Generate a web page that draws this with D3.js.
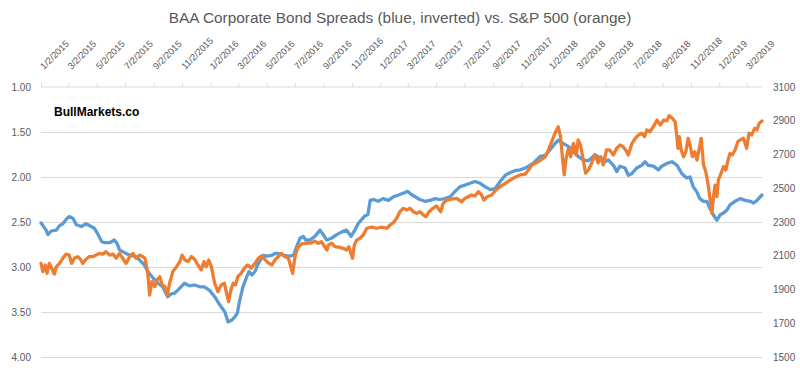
<!DOCTYPE html>
<html>
<head>
<meta charset="utf-8">
<script src="https://cdn.jsdelivr.net/npm/d3@7"></script>
<style>
  html, body { margin: 0; padding: 0; background: #fff; }
  svg { display: block; }
  text { font-family: "Liberation Sans", Arial, sans-serif; }
</style>
</head>
<body>
<svg id="chart" width="800" height="375"></svg>
<script>
// ---------- DATA ----------
const chartTitle = "BAA Corporate Bond Spreads (blue, inverted) vs. S&P 500 (orange)";
const watermark = "BullMarkets.co";

const spreadTicks = [1.00, 1.50, 2.00, 2.50, 3.00, 3.50, 4.00];
const spxTicks = [1500, 1700, 1900, 2100, 2300, 2500, 2700, 2900, 3100];
const dateTicks = ["2015-01-02","2015-03-02","2015-05-02","2015-07-02","2015-09-02","2015-11-02",
  "2016-01-02","2016-03-02","2016-05-02","2016-07-02","2016-09-02","2016-11-02",
  "2017-01-02","2017-03-02","2017-05-02","2017-07-02","2017-09-02","2017-11-02",
  "2018-01-02","2018-03-02","2018-05-02","2018-07-02","2018-09-02","2018-11-02",
  "2019-01-02","2019-03-02"];
const dateRange = ["2015-01-02", "2019-04-04"];

// BAA corporate bond spread (%), blue, plotted on inverted left axis
const spreadDates = ["2015-01-02","2015-01-13","2015-01-17","2015-01-24","2015-02-04","2015-02-11","2015-02-18","2015-02-27","2015-03-04","2015-03-12","2015-03-19","2015-03-30","2015-04-09","2015-04-20","2015-04-27","2015-05-04","2015-05-13","2015-05-19","2015-05-30","2015-06-09","2015-06-15","2015-06-20","2015-07-01","2015-07-12","2015-07-23","2015-08-02","2015-08-13","2015-08-20","2015-08-31","2015-09-11","2015-09-21","2015-10-02","2015-10-09","2015-10-17","2015-10-27","2015-11-07","2015-11-18","2015-11-29","2015-12-10","2015-12-20","2015-12-31",
"2016-01-11","2016-01-22","2016-02-02","2016-02-09","2016-02-17","2016-02-24","2016-02-29","2016-03-05","2016-03-12","2016-03-20","2016-03-25","2016-03-31","2016-04-07","2016-04-14","2016-04-25","2016-05-02","2016-05-13","2016-05-20","2016-05-27","2016-06-07","2016-06-18","2016-06-29","2016-07-06","2016-07-13","2016-07-20","2016-07-25","2016-08-03","2016-08-14","2016-08-25","2016-09-01","2016-09-08","2016-09-19","2016-09-30","2016-10-11","2016-10-21","2016-10-31","2016-11-08","2016-11-15","2016-11-23","2016-11-30","2016-12-06","2016-12-11","2016-12-18","2016-12-28",
"2017-01-08","2017-01-19","2017-01-30","2017-02-10","2017-02-20","2017-03-02","2017-03-11","2017-03-18","2017-03-28","2017-04-08","2017-04-19","2017-04-30","2017-05-10","2017-05-21","2017-06-01","2017-06-12","2017-06-22","2017-07-03","2017-07-14","2017-07-25","2017-08-05","2017-08-16","2017-08-27","2017-09-06","2017-09-17","2017-09-28","2017-10-09","2017-10-19","2017-10-30","2017-11-10","2017-11-21","2017-12-01","2017-12-12","2017-12-23",
"2018-01-02","2018-01-13","2018-01-20","2018-01-28","2018-02-04","2018-02-11","2018-02-22","2018-03-04","2018-03-15","2018-03-26","2018-04-06","2018-04-12","2018-04-20","2018-05-01","2018-05-08","2018-05-19","2018-05-26","2018-06-02","2018-06-13","2018-06-20","2018-06-28","2018-07-08","2018-07-19","2018-07-26","2018-08-02","2018-08-13","2018-08-24","2018-08-31","2018-09-11","2018-09-22","2018-10-03","2018-10-13","2018-10-24","2018-10-31","2018-11-07","2018-11-14","2018-11-21","2018-11-29","2018-12-06","2018-12-13","2018-12-20","2018-12-28",
"2019-01-04","2019-01-11","2019-01-18","2019-01-25","2019-02-05","2019-02-16","2019-02-27","2019-03-10","2019-03-17","2019-03-24","2019-04-04"];
const spreadValues = [2.51,2.59,2.64,2.60,2.59,2.54,2.52,2.46,2.44,2.46,2.53,2.55,2.52,2.55,2.57,2.63,2.72,2.73,2.73,2.70,2.74,2.81,2.84,2.87,2.88,2.92,2.98,3.05,3.12,3.18,3.22,3.33,3.30,3.29,3.24,3.18,3.21,3.20,3.22,3.22,3.26,
3.33,3.42,3.50,3.61,3.59,3.55,3.51,3.37,3.22,3.11,3.05,3.09,3.05,2.96,2.87,2.88,2.87,2.85,2.85,2.87,2.88,2.87,2.77,2.68,2.66,2.70,2.70,2.66,2.59,2.64,2.70,2.68,2.64,2.61,2.59,2.66,2.59,2.52,2.47,2.43,2.42,2.26,2.25,2.27,
2.24,2.26,2.22,2.20,2.18,2.16,2.20,2.22,2.25,2.27,2.26,2.24,2.25,2.24,2.22,2.16,2.11,2.09,2.07,2.05,2.07,2.11,2.14,2.13,2.05,1.98,1.95,1.93,1.92,1.90,1.87,1.83,1.77,1.76,
1.70,1.63,1.59,1.62,1.64,1.66,1.72,1.77,1.81,1.82,1.77,1.76,1.79,1.83,1.81,1.87,1.94,1.88,1.90,1.98,1.96,1.90,1.87,1.83,1.87,1.88,1.92,1.88,1.85,1.83,1.87,1.96,2.01,2.00,2.11,2.16,2.24,2.27,2.27,2.35,2.42,2.48,
2.42,2.40,2.37,2.31,2.27,2.24,2.26,2.27,2.29,2.26,2.20];

// S&P 500 index, orange, right axis
const spxDates = ["2015-01-02","2015-01-06","2015-01-11","2015-01-15","2015-01-20","2015-01-25","2015-01-31","2015-02-04","2015-02-11","2015-02-18","2015-02-25","2015-03-04","2015-03-09","2015-03-15","2015-03-22","2015-03-28","2015-04-02","2015-04-09","2015-04-16","2015-04-24","2015-05-01","2015-05-08","2015-05-15","2015-05-22","2015-05-30","2015-06-06","2015-06-13","2015-06-20","2015-06-27","2015-07-04","2015-07-12","2015-07-19","2015-07-26","2015-08-02","2015-08-09","2015-08-14","2015-08-20","2015-08-24","2015-08-29","2015-09-04","2015-09-09","2015-09-15","2015-09-20","2015-09-26","2015-10-01","2015-10-06","2015-10-13","2015-10-21","2015-10-28","2015-11-02","2015-11-08","2015-11-15","2015-11-22","2015-11-29","2015-12-06","2015-12-13","2015-12-19","2015-12-24","2015-12-29",
"2016-01-04","2016-01-11","2016-01-18","2016-01-25","2016-02-01","2016-02-05","2016-02-10","2016-02-15","2016-02-20","2016-02-25","2016-03-01","2016-03-08","2016-03-15","2016-03-22","2016-03-30","2016-04-07","2016-04-14","2016-04-21","2016-04-28","2016-05-05","2016-05-13","2016-05-20","2016-05-27","2016-06-03","2016-06-10","2016-06-18","2016-06-27","2016-07-01","2016-07-04","2016-07-09","2016-07-17","2016-07-27","2016-08-07","2016-08-14","2016-08-21","2016-08-28","2016-09-09","2016-09-12","2016-09-19","2016-09-26","2016-10-07","2016-10-14","2016-10-21","2016-10-26","2016-11-03","2016-11-07","2016-11-12","2016-11-19","2016-11-26","2016-12-04","2016-12-14","2016-12-25",
"2017-01-05","2017-01-16","2017-01-23","2017-01-30","2017-02-06","2017-02-13","2017-02-20","2017-02-28","2017-03-07","2017-03-14","2017-03-21","2017-03-28","2017-04-05","2017-04-10","2017-04-17","2017-04-25","2017-05-03","2017-05-12","2017-05-17","2017-05-25","2017-06-04","2017-06-15","2017-06-26","2017-07-03","2017-07-10","2017-07-17","2017-07-25","2017-08-01","2017-08-08","2017-08-13","2017-08-20","2017-08-30","2017-09-08","2017-09-17","2017-09-28","2017-10-09","2017-10-19","2017-10-30","2017-11-10","2017-11-17","2017-11-24","2017-12-01","2017-12-08","2017-12-16","2017-12-23","2017-12-30",
"2018-01-06","2018-01-13","2018-01-20","2018-01-25","2018-01-29","2018-02-02","2018-02-06","2018-02-11","2018-02-16","2018-02-22","2018-02-28","2018-03-04","2018-03-09","2018-03-15","2018-03-20","2018-03-26","2018-04-02","2018-04-09","2018-04-16","2018-04-22","2018-04-27","2018-05-04","2018-05-11","2018-05-19","2018-05-26","2018-06-02","2018-06-09","2018-06-17","2018-06-20","2018-06-28","2018-07-05","2018-07-12","2018-07-19","2018-07-25","2018-07-30","2018-08-06","2018-08-13","2018-08-21","2018-08-28","2018-09-04","2018-09-11","2018-09-16","2018-09-23","2018-09-29","2018-10-03","2018-10-05","2018-10-08","2018-10-12","2018-10-17","2018-10-22","2018-10-27","2018-10-31","2018-11-05","2018-11-10","2018-11-15","2018-11-20","2018-11-24","2018-11-29","2018-12-04","2018-12-09","2018-12-13","2018-12-17","2018-12-21","2018-12-24","2018-12-28","2018-12-31",
"2019-01-06","2019-01-11","2019-01-16","2019-01-20","2019-01-25","2019-01-30","2019-02-05","2019-02-11","2019-02-16","2019-02-23","2019-03-02","2019-03-07","2019-03-13","2019-03-19","2019-03-24","2019-03-29","2019-04-04"];
const spxValues = [2055,2006,2045,1996,2055,2026,1992,2035,2055,2085,2110,2104,2055,2085,2095,2079,2055,2079,2095,2095,2104,2114,2110,2124,2104,2110,2085,2114,2085,2055,2095,2114,2085,2104,2095,2085,1996,1867,1946,1917,1956,1976,1927,1917,1867,1937,2006,2035,2065,2104,2075,2065,2095,2079,2045,2016,2065,2035,2075,
2035,1937,1887,1927,1937,1887,1828,1897,1937,1927,1976,1996,2026,2045,2026,2055,2085,2099,2079,2059,2045,2075,2095,2114,2095,2085,1996,2075,2114,2154,2170,2174,2177,2187,2174,2183,2134,2164,2174,2154,2150,2144,2134,2154,2085,2164,2193,2203,2223,2263,2269,2263,
2269,2263,2282,2296,2322,2361,2381,2371,2381,2361,2351,2361,2341,2331,2361,2381,2395,2361,2410,2430,2435,2440,2420,2440,2450,2460,2454,2480,2460,2430,2450,2460,2490,2509,2529,2549,2565,2579,2584,2608,2638,2648,2657,2672,2687,2727,
2776,2826,2865,2806,2687,2579,2677,2737,2687,2766,2697,2786,2756,2667,2589,2608,2648,2700,2650,2687,2638,2727,2727,2697,2737,2756,2746,2717,2697,2766,2796,2816,2826,2806,2845,2835,2865,2904,2875,2904,2899,2930,2914,2894,2796,2737,2806,2727,2687,2717,2796,2756,2687,2717,2667,2737,2796,2638,2598,2519,2440,2351,2460,2519,2450,2549,
2589,2628,2608,2657,2707,2697,2727,2776,2786,2796,2737,2826,2816,2855,2845,2885,2899];

// ---------- CHART ----------
const W = 800, H = 375;
const M = { left: 41, right: 762, top: 87, bottom: 357 };
const parse = d3.timeParse("%Y-%m-%d");
const fmtTick = d => (d.getMonth() + 1) + "/" + d.getDate() + "/" + d.getFullYear();

const svg = d3.select("#chart");
svg.append("rect").attr("width", W).attr("height", H).attr("fill", "#fff");

const x = d3.scaleTime().domain(dateRange.map(parse)).range([M.left, M.right]);
const yL = d3.scaleLinear().domain([1, 4]).range([M.top, M.bottom]);
const yR = d3.scaleLinear().domain([1500, 3100]).range([M.bottom, M.top]);

const textColor = "#595959";
const font = '"Liberation Sans", Arial, sans-serif';

// gridlines (left axis)
svg.append("g").attr("class", "grid")
  .attr("transform", `translate(${M.left},0)`)
  .call(d3.axisLeft(yL).tickValues(spreadTicks.slice(1)).tickSize(-(M.right - M.left)).tickFormat(""))
  .call(g => g.select(".domain").remove())
  .call(g => g.selectAll("line").attr("stroke", "#D9D9D9").attr("stroke-width", 1));

// left axis labels
svg.append("g")
  .attr("transform", `translate(${M.left},0)`)
  .call(d3.axisLeft(yL).tickValues(spreadTicks).tickSize(0).tickPadding(10).tickFormat(d3.format(".2f")))
  .call(g => g.select(".domain").remove())
  .call(g => g.selectAll("text").attr("fill", textColor).attr("font-size", 10).attr("font-family", font));

// right axis labels
svg.append("g")
  .attr("transform", `translate(${M.right},0)`)
  .call(d3.axisRight(yR).tickValues(spxTicks).tickSize(0).tickPadding(11).tickFormat(d3.format("d")))
  .call(g => g.select(".domain").remove())
  .call(g => g.selectAll("text").attr("fill", textColor).attr("font-size", 10).attr("font-family", font));

// top date axis
const topAxis = svg.append("g")
  .attr("transform", `translate(0,${M.top})`)
  .call(d3.axisTop(x).tickValues(dateTicks.map(parse)).tickSize(4).tickFormat(fmtTick));
topAxis.select(".domain").attr("stroke", "#D9D9D9").attr("d", `M${M.left},0H${M.right}`);
topAxis.selectAll(".tick line").attr("stroke", "#D9D9D9");
topAxis.selectAll(".tick text")
  .attr("fill", textColor).attr("font-size", 9.3).attr("font-family", font)
  .attr("text-anchor", "start")
  .attr("x", 0).attr("y", 0).attr("dy", 0)
  .attr("transform", "translate(2.5,-17) rotate(-45)");

// lines
const spreadData = spreadDates.map((d, i) => ({ date: parse(d), v: spreadValues[i] }));
const spxData = spxDates.map((d, i) => ({ date: parse(d), v: spxValues[i] }));

svg.append("path").datum(spreadData)
  .attr("fill", "none").attr("stroke", "#5B9BD5").attr("stroke-width", 3.3)
  .attr("stroke-linejoin", "round").attr("stroke-linecap", "round")
  .attr("d", d3.line().x(d => x(d.date)).y(d => yL(d.v)));

svg.append("path").datum(spxData)
  .attr("fill", "none").attr("stroke", "#ED7D31").attr("stroke-width", 3.3)
  .attr("stroke-linejoin", "round").attr("stroke-linecap", "round")
  .attr("d", d3.line().x(d => x(d.date)).y(d => yR(d.v)));

// title
svg.append("text").attr("x", 400).attr("y", 23).attr("text-anchor", "middle")
  .attr("fill", textColor).attr("font-size", 15.4).attr("font-family", font).text(chartTitle);

// watermark
svg.append("text").attr("x", 54).attr("y", 116).attr("fill", "#000").attr("font-family", font)
  .attr("font-size", 12).attr("font-weight", "bold").text(watermark);
</script>
</body>
</html>
